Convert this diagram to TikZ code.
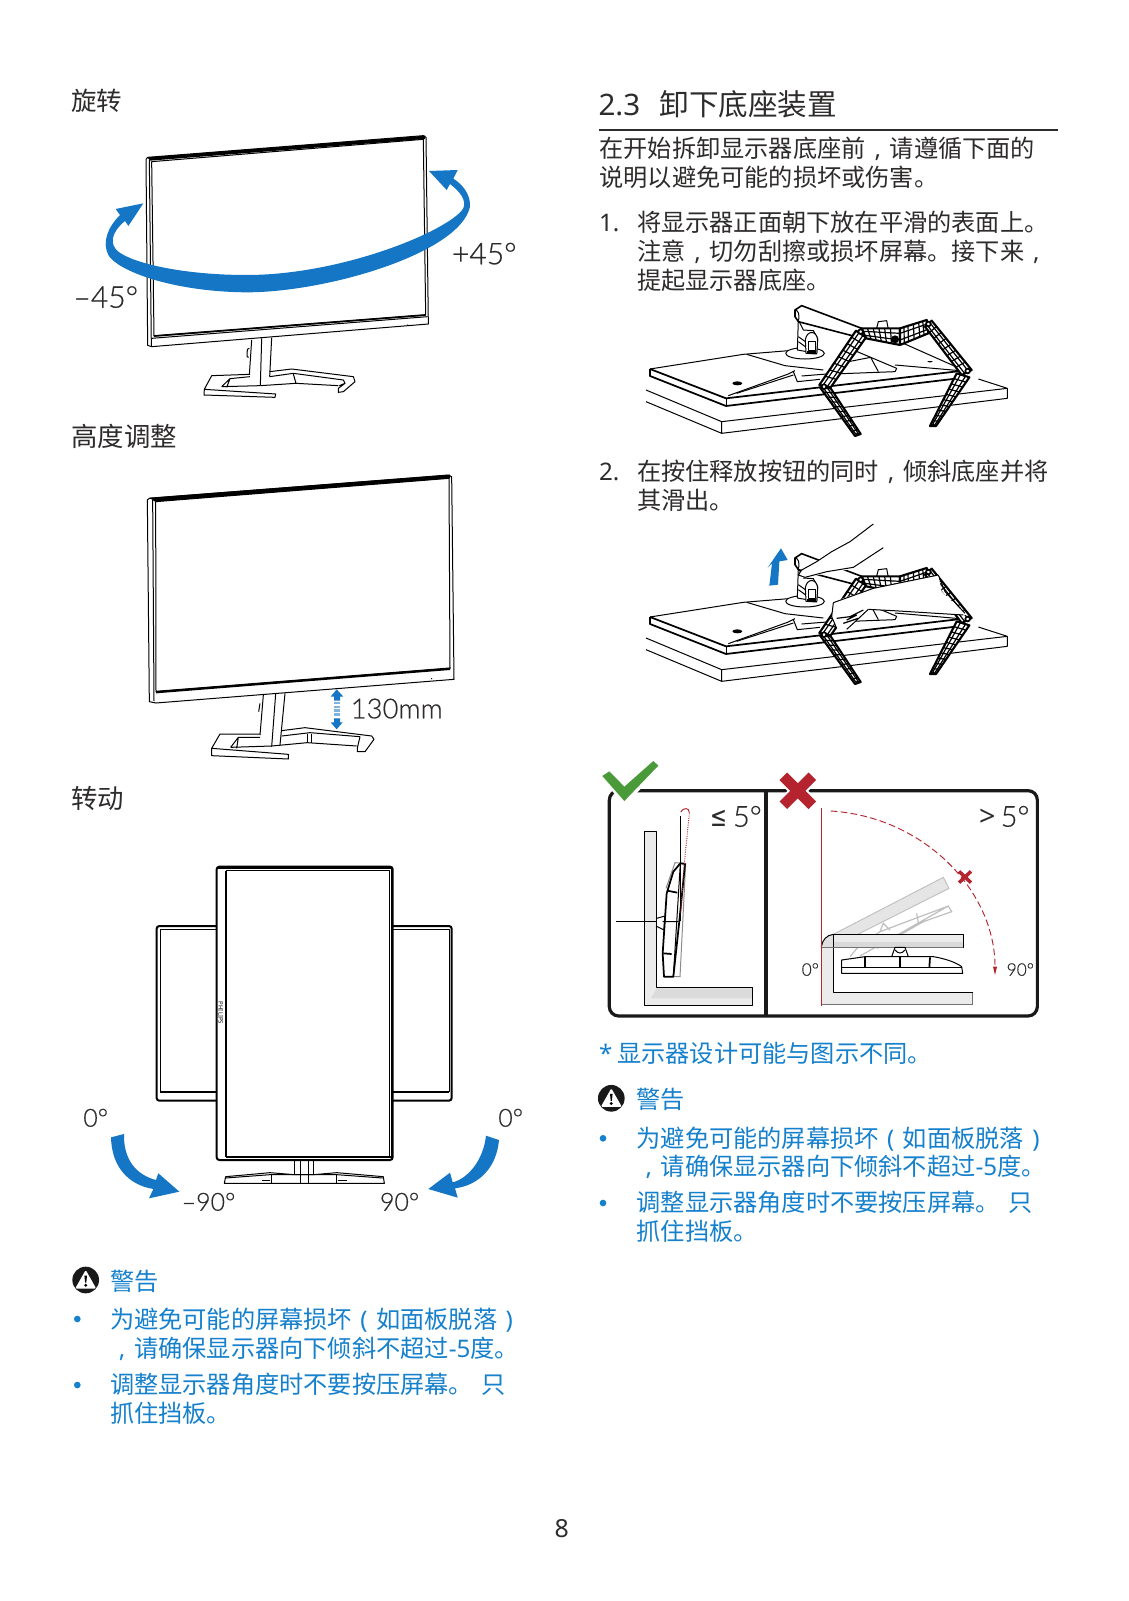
\documentclass[tikz,border=0pt]{standalone}
\usepackage{fontspec}
\usetikzlibrary{calc}
\setmainfont{Noto Sans CJK SC}
\newfontfamily\lat{Noto Sans}
\newfontfamily\lt[FakeBold=0.5]{Lato Light}
\newfontfamily\djvu{DejaVu Sans}
\definecolor{ink}{HTML}{2E2B2B}
\definecolor{tblue}{HTML}{1580CC}
\definecolor{fblue}{HTML}{1576C6}
\definecolor{cred}{HTML}{B5242E}
\definecolor{cgreen}{HTML}{4A9A3A}
\newcommand\cm{\makebox[1em]{\lat ,}}
\newcommand\opn{\makebox[1em]{\lat (}}
\newcommand\cls{\makebox[1em]{\lat )}}
\newcommand\body{\fontsize{18.15}{20}\selectfont}
\newcommand\head{\fontsize{19.1}{20}\selectfont}
\newcommand\headb{\fontsize{19.8}{20}\selectfont}
\newcommand\lab[1]{\fontsize{#1}{#1}\selectfont\lt}
\tikzset{
  zc/.style 2 args={shift={(#1,#2)},x=0.25pt,y=-0.25pt},
  txt/.style={anchor=base west,inner sep=0pt,outer sep=0pt,text=ink},
  btxt/.style={anchor=base west,inner sep=0pt,outer sep=0pt,text=tblue},
  ln/.style={draw=black,line width=0.75pt,line join=round},
  thin ln/.style={draw=black,line width=0.9pt,line join=round},
  hv/.style={draw=black,line width=1.3pt,line join=round},
  wht/.style={fill=white,draw=black,line width=0.75pt,line join=round},
  bul/.style={circle,fill=tblue,inner sep=0pt,minimum size=5pt,draw=none},
}
% quadrilateral with ladder rungs
\newcommand\legpart[5]{%
  \coordinate (pa) at #1; \coordinate (pb) at #2; \coordinate (pc) at #3; \coordinate (pd) at #4;
  \fill[white] (pa)--(pb)--(pc)--(pd)--cycle;
  \draw[thin ln] ($(pa)!.3!(pb)$)--($(pd)!.3!(pc)$) ($(pa)!.7!(pb)$)--($(pd)!.7!(pc)$);
  \foreach \t in {#5}{\draw[thin ln] ($(pa)!\t!(pd)$)--($(pb)!\t!(pc)$);}
  \draw[draw=black,line width=1.6pt,line join=round] (pa)--(pb)--(pc)--(pd)--cycle;
}
\newcommand\removeart{%
  % table
  \draw[ln] (78,270)--(305,365)--(1162,265)--(1075,237);
  \draw[ln] (78,305)--(305,400)--(1162,295)--(1162,265) (305,365)--(305,400);
  % monitor
  \fill[white] (90,207)--(370,163)--(700,130)--(850,130)--(1040,215)--(1040,232)--(318,318)--(90,228)--cycle;
  \draw[ln] (90,207)--(370,163)--(530,150);
  \draw[hv] (90,207)--(318,295)--(1030,212);
  \draw[hv] (90,207)--(90,228)--(318,318)--(1040,232);
  \draw[ln] (318,295)--(318,318);
  \draw[ln] (325,287)--(505,222)--(525,212);
  \draw[ln] (350,280)--(520,225);
  \draw[ln] (380,163)--(495,197)--(610,210);
  \draw[ln] (850,130)--(1030,210) (825,195)--(1020,212);
  \draw[ln] (520,215)--(532,245)--(600,238) (545,228)--(620,222);
  \draw[ln] (700,150)--(830,205)--(825,215)--(640,222);
  \draw[ln] (660,190)--(752,172)--(775,215);
  \fill[black] (352,250) ellipse (15 and 6);
  \fill[black] (930,185) ellipse (8 and 2);
  % neck
  \draw[ln,fill=white] (555,160) ellipse (58 and 17);
  \draw[ln,fill=white] (535,60)--(532,150)--(590,160)--(593,115)--(580,92)--(550,90)--cycle;
  \draw[ln,fill=white] (556,120) .. controls (560,90) and (590,90) .. (593,120)--(590,162)--(558,160)--cycle;
  \fill[black] (562,152) rectangle (588,162);
  \draw[ln] (565,125) rectangle (585,152);
  \draw[ln] (535,110)--(556,125) (535,125)--(556,140);
  % arm
  \draw[wht,line width=1.2pt] (525,30)--(545,17)--(725,85)--(700,108)--(535,65)--(525,50)--cycle;
  \draw[ln] (525,30) .. controls (535,30) and (540,45) .. (535,65);
  % stand
  \draw[wht] (770,85)--(775,65)--(800,62)--(805,88)--cycle;
  \legpart{(725,85)}{(738,115)}{(840,135)}{(840,85)}{.15,.3,.45,.6,.75}
  \legpart{(840,85)}{(840,135)}{(925,100)}{(920,60)}{.15,.3,.5,.7,.85}
  \fill[black] (825,118) circle (12);
  \legpart{(708,92)}{(738,112)}{(632,262)}{(598,255)}{.12,.24,.36,.48,.6,.72,.84}
  \legpart{(600,262)}{(632,265)}{(722,402)}{(705,408)}{.1,.2,.3,.4,.5,.6,.7,.8,.9}
  \legpart{(915,80)}{(935,62)}{(1055,210)}{(1025,225)}{.12,.24,.36,.48,.6,.72,.84}
  \legpart{(1010,220)}{(1048,232)}{(948,378)}{(930,378)}{.1,.2,.3,.4,.5,.6,.7,.8,.9}
  \foreach \p in {(722,95),(925,72),(1043,213),(612,260)}{\draw[fill=white,draw=black,line width=1.3pt] \p circle (7);}
  \foreach \p in {(712,402),(940,375)}{\draw[fill=white,draw=black,line width=.8pt] \p circle (3);}
}
\newcommand\warnicon[2]{%
  \fill[black!90] (#1,#2) circle (10pt);
  \fill[white,rounded corners=1pt] ($(#1,#2)+(0,-10)$)--($(#1,#2)+(10.5,8.5)$)--($(#1,#2)+(-10.5,8.5)$)--cycle;
  \fill[black] ($(#1,#2)+(-1.3,-4.5)$)--($(#1,#2)+(1.3,-4.5)$)--($(#1,#2)+(.6,2.5)$)--($(#1,#2)+(-.6,2.5)$)--cycle;
  \fill[black] ($(#1,#2)+(0,5.2)$) circle (1.2pt);
}
\begin{document}
\begin{tikzpicture}[x=0.75pt,y=-0.75pt]
\useasboundingbox[fill=white] (0,0) rectangle (1128,1601);
%=== headings left
\node[txt] (t1) at (71.5,111) {\head 旋转};
\node[txt] (t2) at (71.5,446) {\headb 高度调整};
\node[txt] (t3) at (71.5,808) {\headb 转动};
%=== monitor 1
\begin{scope}[zc={60}{120}]
  \draw[wht] (258,118)--(263,112)--(1090,47)--(1098,52)--(1105,612)--(275,680)--(263,676)--cycle;
  \fill[black] (262,112)--(1095,47)--(1095,57)--(270,122)--cycle;
  \draw[ln] (275,125)--(1090,58)--(1097,585)--(282,648)--cycle;
  \draw[ln] (268,120)--(274,678);
  \draw[hv] (282,648)--(1097,585);
  \draw[ln] (275,655)--(1103,590);
  \fill[black] (1043,615) circle (2);
  \draw[ln] (575,660)--(568,765) (605,655)--(601,797) (635,653)--(629,770);
  \draw[ln] (568,685)--(562,688)--(561,710)--(566,712);
  \draw[ln] (570,763)--(455,767)--(433,808)--(432,825)--(645,832)--(647,822)--(433,808);
  \draw[ln] (485,800)--(510,776)--(570,770) (510,776)--(500,802) (485,800)--(600,797);
  \draw[ln] (601,797)--(708,790)--(835,797) (700,762)--(708,790);
  \draw[ln] (629,755)--(695,747)--(880,770)--(885,785)--(850,815)--(835,817)--(835,805)--(855,790)--(838,797);
  \draw[ln] (629,770)--(700,760)--(850,780)--(855,790);
\end{scope}
\begin{scope}[zc={60}{120}]
  \fill[fblue] (250,250)--(167,267)--(180,285) .. controls (145,320) and (125,365) .. (145,405) .. controls (170,450) and (330,515) .. (560,517) .. controls (800,517) and (1200,400) .. (1230,260) .. controls (1232,225) and (1210,195) .. (1180,176)--(1193,150)--(1107,153)--(1160,210)--(1170,192) .. controls (1200,215) and (1220,240) .. (1210,265) .. controls (1170,330) and (850,465) .. (560,465) .. controls (370,465) and (220,430) .. (175,395) .. controls (150,375) and (150,340) .. (195,303)--(205,318)--cycle;
\end{scope}
\node[txt] (m45) at (73.5,307.7) {\lab{22.5}–45°};
\node[txt] (p45) at (452,264.3) {\lab{22.5}+45°};
%=== monitor 2
\begin{scope}[zc={130}{460}]
  \draw[wht] (52,120)--(58,115)--(955,45)--(965,50)--(972,658)--(78,729)--(58,725)--cycle;
  \fill[black] (58,113)--(960,44)--(960,55)--(75,125)--cycle;
  \draw[ln] (77,125)--(957,55)--(960,625)--(78,695)--cycle;
  \draw[ln] (68,120)--(72,723);
  \draw[hv] (78,695)--(960,625);
\end{scope}
\begin{scope}[zc={130}{660}]
  \fill[black] (78,95)--(960,25)--(960,30)--(78,100)--cycle;
  \draw[ln] (400,105)--(390,225) (437,102)--(425,260) (465,100)--(450,255);
  \draw[ln] (390,130)--(386,155);
  \fill[black] (905,56) circle (2);
  \draw[ln] (390,222)--(270,222)--(245,265)--(245,287)--(475,297)--(475,283)--(245,265);
  \draw[ln] (302,262)--(325,232)--(390,232) (325,232)--(320,265) (302,262)--(425,258);
  \draw[ln] (425,258)--(532,248)--(680,258);
  \draw[ln] (532,222)--(532,248) (545,222)--(545,248);
  \draw[ln] (455,212)--(525,203)--(725,228)--(732,238)--(705,275)--(682,275)--(682,264)--(690,230);
  \draw[ln] (455,228)--(540,218)--(690,230);
  \foreach \yy/\hh in {127/6,137/6,148/7,160/8}{\fill[fblue!55] (612,\yy) rectangle (630,\yy+\hh);}
  \fill[fblue] (620,88)--(640,110)--(630,110)--(630,122)--(612,122)--(612,110)--(602,110)--cycle;
  \fill[fblue] (620,208)--(638,187)--(630,187)--(630,175)--(612,175)--(612,187)--(602,187)--cycle;
\end{scope}
\node[txt] (mm) at (350.7,718.3) {\lab{20.6}130mm};
%=== monitor 3
\begin{scope}[zc={140}{850}]
  \draw[line width=1.5pt,rounded corners=2pt,fill=white] (50,228) rectangle (935,752);
  \draw[ln] (60,238) rectangle (927,725);
  \draw[hv] (60,725)--(927,725);
\end{scope}
\begin{scope}[zc={70}{1080}]
  \draw[line width=1.5pt,rounded corners=2pt,fill=white] (440,-640) rectangle (968,240);
  \draw[line width=1.5pt] (468,-628)--(468,232);
  \draw[ln] (468,-628)--(957,-628)--(957,232)--(468,232);
  \draw[hv] (468,232)--(962,232);
  \fill[black] (442,-640) rectangle (966,-634);
  \fill[black] (962,-636) rectangle (968,236);
  \draw[ln] (673,240)--(673,283) (690,240)--(690,310) (716,240)--(716,310) (730,240)--(730,283);
  \draw[ln] (463,310)--(943,310)--(940,290)--(800,278)--(730,284)--(673,284)--(600,278)--(467,290)--cycle;
  \draw[ln] (467,294)--(600,284)--(800,284)--(938,294);
  \draw[ln] (605,284)--(605,310) (800,284)--(800,310);
  \draw[ln] (575,300)--(600,300) (805,300)--(830,300);
  \fill[fblue] (123,172)--(162,162) .. controls (160,240) and (200,285) .. (258,300)--(265,280)--(328,335)--(237,355)--(250,327) .. controls (175,315) and (125,260) .. (123,172)--cycle;
  \fill[fblue] (1248,167) .. controls (1240,240) and (1195,295) .. (1148,307)--(1140,278)--(1075,327)--(1163,353)--(1155,325) .. controls (1230,315) and (1280,260) .. (1287,180)--cycle;
\end{scope}
\node[inner sep=0pt,rotate=-90] (brand) at (220.7,1013) {\fontsize{4.5}{5}\selectfont\lat PHILIPS};
\node[txt] (l0) at (83.3,1126.7) {\lab{18.7}0°};
\node[txt] (r0) at (498.3,1126.7) {\lab{18.7}0°};
\node[txt] (m90) at (181.7,1210.7) {\lab{18.7}–90°};
\node[txt] (p90) at (380,1210.7) {\lab{18.7}90°};
%=== left warning
\warnicon{85.7}{1280}
\node[btxt] (w1) at (110,1290) {\body 警告};
\node[bul] (b1) at (77.3,1319) {};
\node[bul] (b2) at (77.3,1385) {};
\node[btxt] (w2) at (110,1328) {\body 为避免可能的屏幕损坏\opn 如面板脱落\cls};
\node[btxt] (w3) at (110,1357) {\body \cm 请确保显示器向下倾斜不超过{\lat -5}度。};
\node[btxt] (w4) at (110,1393.5) {\body 调整显示器角度时不要按压屏幕。\hspace{6.5pt}只};
\node[btxt] (w5) at (110,1422.5) {\body 抓住挡板。};
\node[txt,anchor=base] (pg) at (561.7,1537) {\fontsize{18.7}{20}\selectfont\lat 8};
%=== right text
\node[txt] (h1) at (598.5,116) {\fontsize{22.2}{24}\selectfont\lat 2.3};
\node[txt] (h2) at (659.5,116) {\fontsize{22.2}{24}\selectfont 卸下底座装置};
\coordinate (ra) at (598.5,130); \coordinate (rb) at (1058,130);
\draw[draw=ink,line width=1.5pt] (ra)--(rb);
\node[txt] (a1) at (599.5,157.5) {\body 在开始拆卸显示器底座前\cm 请遵循下面的};
\node[txt] (a2) at (599.5,187) {\body 说明以避免可能的损坏或伤害。};
\node[txt] (n1) at (599,231.5) {\body\lat 1.};
\node[txt] (a3) at (637,231.5) {\body 将显示器正面朝下放在平滑的表面上。};
\node[txt] (a4) at (637,260.5) {\body 注意\cm 切勿刮擦或损坏屏幕。接下来\cm};
\node[txt] (a5) at (637,289.5) {\body 提起显示器底座。};
\node[txt] (n2) at (599,480) {\body\lat 2.};
\node[txt] (a6) at (637,480) {\body 在按住释放按钮的同时\cm 倾斜底座并将};
\node[txt] (a7) at (637,509) {\body 其滑出。};
%=== removal 1
\begin{scope}[zc={620}{300}]
  \removeart
\end{scope}
%=== removal 2
\begin{scope}[zc={620}{548}]
  \removeart
\end{scope}
\begin{scope}[zc={620}{520}]
  \fill[white] (760,12)--(690,65)--(635,95)--(590,125)--(540,155)--(540,175)--(620,160)--(705,145)--(790,85)--cycle;
  \draw[ln] (760,12)--(690,65)--(635,95)--(590,125)--(545,150)--(535,165)--(555,172)--(620,155)--(700,142)--(790,83);
  \fill[white] (640,245)--(760,205)--(955,165)--(965,215)--(1040,285)--(820,272)--(745,268)--(700,310)--(680,328)--(650,325)--(635,290)--cycle;
  \draw[ln] (640,248)--(760,205)--(955,165);
  \draw[ln] (745,268) -- (820,272)--(1030,285);
  \draw[ln] (745,268)--(700,310)--(680,328) (650,325)--(635,290)--(640,248);
  \draw[thin ln] (650,295)--(690,290)--(730,270) (680,300)--(710,285) (670,310)--(715,295);
  \draw[ln] (955,165)--(975,215)--(1035,280);
  \fill[fblue] (483,85)--(503,120)--(478,124)--(474,194)--(448,197)--(456,130)--(443,143)--cycle;
\end{scope}
%=== tilt box
\begin{scope}[zc={590}{750}]
  \draw[line width=2.4pt,rounded corners=7pt,draw=black!90] (58,122) rectangle (1342,798);
  \draw[line width=2.4pt,draw=black!90] (528,122)--(528,798);
  % left wall
  \fill[black!8] (163,245)--(200,245)--(200,712)--(488,712)--(488,767)--(163,767)--cycle;
  \fill[black!14] (183,745)--(183,745)--(488,745)--(488,715)--(200,715)--cycle;
  \draw[ln] (163,245)--(200,245)--(200,712)--(488,712)--(488,767)--(163,767)--cycle;
  % left monitor
  \draw[draw=black!45,line width=.75pt] (228,415)--(255,338)--(287,340)--(270,680)--(248,680);
  \draw[ln] (271,198)--(271,513);
  \draw[ln] (79,515)--(200,515);
  \draw[ln] (200,505)--(225,498)--(222,540)--(198,528);
  \draw[hv] (271,340)--(285,342)--(268,513)--(250,680)--(222,680)--(218,610)--(230,430)--(250,365)--cycle;
  \draw[ln] (271,340)--(250,680) (218,515)--(265,515);
  \draw[hv] (232,422)--(262,428) (220,610)--(245,612);
  \draw[cred,line width=.7pt,densely dotted] (298,190)--(283,340)--(272,490);
  \draw[cred,line width=.7pt] (272,186) .. controls (280,172) and (298,172) .. (298,188);
  % right wall
  \fill[black!10] (730,553)--(1060,382)--(1077,415)--(730,590)--cycle;
  \draw[black!25,line width=.7pt] (730,553)--(1060,382)--(1077,415)--(730,590);
  \draw[black!25,line width=.9pt] (810,618)--(1075,468)--(1085,485)--(1000,515)--(860,595) (780,620)--(805,590)--(870,545)--(1075,468);
  \draw[black!25,line width=.9pt] (870,545)--(880,520)--(900,540) (980,490)--(985,520)--(1000,515);
  \fill[black!8] (694,592)--(730,592)--(730,727)--(1148,727)--(1148,763)--(694,763)--cycle;
  \draw[black!55,line width=.75pt] (694,763)--(1148,763)--(1148,727);
  \draw[ln] (730,592)--(730,727)--(1148,727);
  \fill[black!12] (694,590) .. controls (697,570) and (710,555) .. (730,553)--(730,592)--cycle;
  \draw[ln] (694,590) .. controls (697,570) and (710,555) .. (730,553);
  \draw[ln,fill=black!8] (730,553) rectangle (1120,592);
  \fill[black!15] (731,575) rectangle (1119,591);
  \draw[draw=black!55,line width=.75pt] (694,592)--(1120,592);
  % right stand
  \draw[wht] (755,630)--(825,620)--(1030,620) .. controls (1060,625) and (1095,635) .. (1115,650)--(1118,670)--(755,670)--cycle;
  \draw[ln] (755,652)--(1115,652);
  \draw[hv] (825,620)--(825,652) (930,620)--(930,652) (1020,622)--(1018,652);
  \draw[ln] (905,620)--(915,592)--(945,592)--(955,620);
  \draw[ln] (915,600) .. controls (925,612) and (935,612) .. (945,600);
  % red
  \draw[cred,line width=.8pt] (694,175)--(694,767);
  \draw[cred,line width=.7pt,dash pattern=on 5pt off 2.5pt] (722,183) .. controls (1000,200) and (1215,420) .. (1215,650);
  \fill[cred] (1209,650)--(1221,650)--(1215,675)--cycle;
  \draw[cred,line width=2.6pt] (1107,364)--(1143,398) (1107,398)--(1143,364);
  % big marks
  \draw[white,line width=11pt] (583,82)--(664,163) (583,163)--(664,82);
  \draw[cred,line width=8pt] (580,79)--(667,166) (580,166)--(667,79);
  \fill[white] (25,72)--(58,50)--(103,95)--(190,18)--(218,47)--(103,168)--cycle;
  \fill[cgreen] (37,78)--(58,64)--(103,110)--(190,33)--(205,47)--(103,153)--cycle;
\end{scope}
\node[txt,xscale=0.72] (g1) at (710,826.7) {\fontsize{21}{22}\selectfont\djvu ≤};
\node[txt] (g2) at (733,826.7) {\lab{21.7}5°};
\node[txt] (g3) at (979,826.7) {\fontsize{21.5}{22}\selectfont\lat >};
\node[txt] (g4) at (1000.7,826.7) {\lab{21.7}5°};
\node[txt] (g5) at (801.7,975.7) {\lab{13}0°};
\node[txt] (g6) at (1006.7,975.7) {\lab{13}90°};
%=== right warning
\node[btxt] (s1) at (599,1062) {\body\lat *};
\node[btxt] (s2) at (617.3,1062) {\body 显示器设计可能与图示不同。};
\warnicon{611.3}{1098.3}
\node[btxt] (s3) at (636.7,1108) {\body 警告};
\node[bul] (b3) at (603,1138.3) {};
\node[bul] (b4) at (603,1203) {};
\node[btxt] (s4) at (636.7,1147) {\body 为避免可能的屏幕损坏\opn 如面板脱落\cls};
\node[btxt] (s5) at (636.7,1175.5) {\body \cm 请确保显示器向下倾斜不超过{\lat -5}度。};
\node[btxt] (s6) at (636.7,1211) {\body 调整显示器角度时不要按压屏幕。\hspace{6.5pt}只};
\node[btxt] (s7) at (636.7,1240.5) {\body 抓住挡板。};
\end{tikzpicture}
\end{document}
